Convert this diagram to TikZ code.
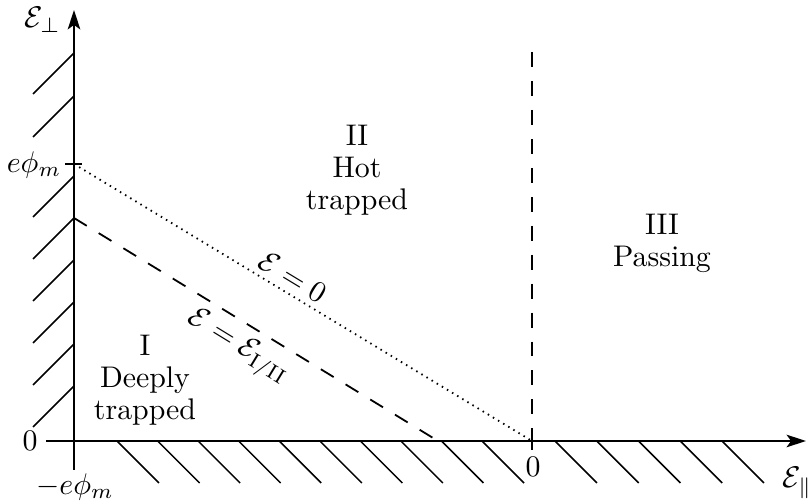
\documentclass[tikz,border=0pt]{standalone}
\usetikzlibrary{arrows.meta}
\begin{document}
\begin{tikzpicture}[x={(0.335pt,0)},y={(0,-0.335pt)},
  axis/.style={line width=0.65pt,-{Stealth[length=6.5pt,width=4.2pt,inset=1.5pt]}},
  hatch/.style={line width=0.5pt},
  tickline/.style={line width=0.6pt},
  dashline/.style={line width=0.6pt,dash pattern=on 5pt off 4.7pt},
  dotline/.style={line width=0.6pt,dash pattern=on 0.5pt off 1.5pt},
  lbl/.style={inner sep=0pt},
  region/.style={align=center,inner sep=0pt,font=\fontsize{10}{10.7}\selectfont}]
\useasboundingbox (0,0) rectangle (809,504);
% key points
\coordinate (O) at (74,441);
\coordinate (ytop) at (74,10);
\coordinate (ybot) at (74,470);
\coordinate (xleft) at (46,441);
\coordinate (xright) at (806,441);
\coordinate (phim) at (74,164);
\coordinate (phimL) at (65,164);
\coordinate (phimR) at (82,164);
\coordinate (dashstart) at (74,218);
\coordinate (dashend) at (438,441);
\coordinate (zero) at (532,441);
\coordinate (zerotick) at (532,450);
\coordinate (vtop) at (532,52);
% hatching
\foreach \y in {53,96,176,218,260,302,344,386}
  \draw[hatch] (74,\y) -- ++(-41,41);
\foreach \k in {0,...,9}
  \draw[hatch] ({117+40.56*\k},441) -- ++(42,42);
\foreach \k in {0,...,4}
  \draw[hatch] ({555+41.75*\k},441) -- ++(42,42);
% axes
\draw[axis] (ybot) -- (ytop);
\draw[axis] (xleft) -- (xright);
\draw[tickline] (phimL) -- (phimR);
\draw[tickline] (zero) -- (zerotick);
% boundaries
\draw[dotline] (phim) -- (zero);
\draw[dashline] (dashstart) -- (dashend);
\draw[dashline] (vtop) -- (zero);
% axis labels
\node[lbl,anchor=west] (eperp) at (24,20) {$\mathcal{E}_\perp$};
\node[lbl] (ephim) at (34,165) {$e\phi_m$};
\node[lbl] (zeroy) at (30,441) {$0$};
\node[lbl] (mephim) at (75,487) {$-e\phi_m$};
\node[lbl] (zerox) at (533,467) {$0$};
\node[lbl,anchor=west] (epar) at (782,483) {$\mathcal{E}_\parallel$};
% region labels
\node[region] (regI) at (145,380) {I\\Deeply\\trapped};
\node[region] (regII) at (357,170) {II\\Hot\\trapped};
\node[region] (regIII) at (662,243) {III\\Passing};
% line labels
\node[lbl,rotate=-31.2] (lab0) at (293,277) {$\mathcal{E} = 0$};
\node[lbl,rotate=-31.5] (lab12) at (238,347) {$\mathcal{E} = \mathcal{E}_{\mathrm{I/II}}$};
\end{tikzpicture}
\end{document}
